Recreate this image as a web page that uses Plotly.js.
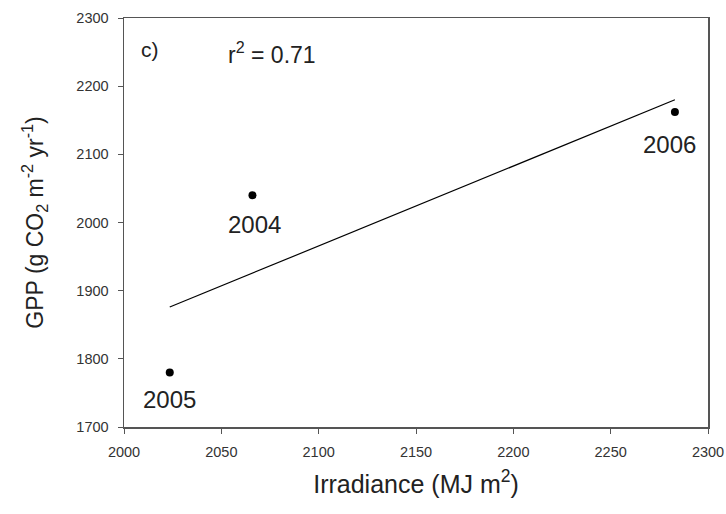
<!DOCTYPE html>
<html><head><meta charset="utf-8">
<script src="https://cdn.plot.ly/plotly-3.0.1.min.js"></script>
<style>html,body{margin:0;padding:0;background:#fff}#plot{width:726px;height:514px}</style>
</head><body><div id="plot"></div>
<script>
const years = ["2004", "2005", "2006"];
const irradiance = [2066, 2023.5, 2283];
const gpp = [2040, 1780, 2162];
const fitX = [2023.5, 2283];
const fitY = [1876, 2180];
const xTicks = [2000, 2050, 2100, 2150, 2200, 2250, 2300];
const yTicks = [1700, 1800, 1900, 2000, 2100, 2200, 2300];
const labelShift = [{dx: 2, dy: 29}, {dx: 0, dy: 27}, {dx: -5, dy: 32}];
const FONT = "Liberation Sans, Arial, sans-serif";

const traces = [
  {x: fitX, y: fitY, mode: "lines", line: {color: "#000", width: 1.2}, hoverinfo: "skip"},
  {x: irradiance, y: gpp, mode: "markers", marker: {color: "#000", size: 8}}
];
const annotations = years.map((t, i) => ({
  x: irradiance[i], y: gpp[i], xref: "x", yref: "y", text: t, showarrow: false,
  xshift: labelShift[i].dx, yshift: -labelShift[i].dy, font: {family: FONT, size: 24, color: "#222"}
}));
annotations.push({x: 0.025, y: 0.955, xref: "paper", yref: "paper", text: "c)", showarrow: false,
  xanchor: "left", font: {family: FONT, size: 21, color: "#222"}});
annotations.push({x: 0.175, y: 0.955, xref: "paper", yref: "paper", text: "r<sup>2</sup> = 0.71", showarrow: false,
  xanchor: "left", font: {family: FONT, size: 23, color: "#222"}});

const axisCommon = {
  showgrid: false, zeroline: false, showline: true, mirror: true,
  linecolor: "#555", linewidth: 1.5, ticks: "outside", ticklen: 5, tickwidth: 1, tickcolor: "#555",
  tickfont: {family: FONT, size: 14.5, color: "#333"}
};
const layout = {
  width: 726, height: 514,
  margin: {l: 124, r: 18, t: 18, b: 87},
  paper_bgcolor: "#fff", plot_bgcolor: "#fff",
  showlegend: false,
  xaxis: Object.assign({}, axisCommon, {range: [2000, 2300], tickvals: xTicks, ticktext: xTicks.map(String),
    ticklabelstandoff: 6,
    title: {text: "Irradiance (MJ m<sup>2</sup>)", font: {family: FONT, size: 25, color: "#222"}, standoff: 16}}),
  yaxis: Object.assign({}, axisCommon, {range: [1700, 2300], tickvals: yTicks, ticktext: yTicks.map(String),
    ticklabelstandoff: 6,
    title: {text: "GPP (g CO<sub>2</sub> m<sup>-2</sup> yr<sup>-1</sup>)", font: {family: FONT, size: 23, color: "#222"}, standoff: 26}}),
  annotations: annotations
};
Plotly.newPlot("plot", traces, layout, {displayModeBar: false, staticPlot: true});
</script></body></html>
